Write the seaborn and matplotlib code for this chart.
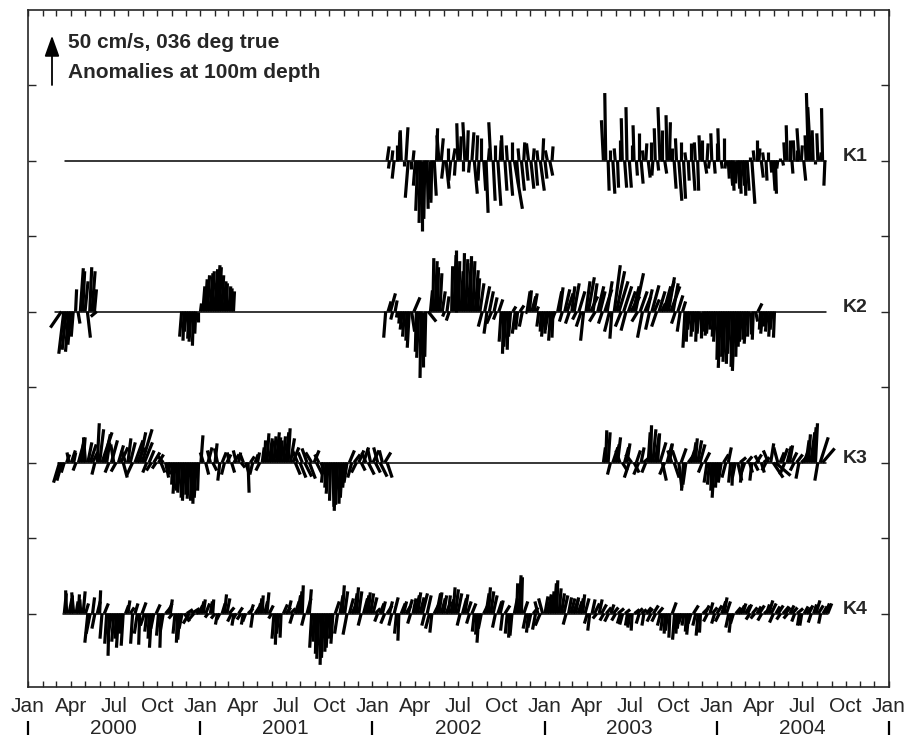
import numpy as np
import pandas as pd
import matplotlib
matplotlib.use("Agg")
import matplotlib.pyplot as plt
import matplotlib.dates as mdates
from matplotlib.collections import LineCollection
from matplotlib.transforms import blended_transform_factory
import seaborn as sns

# ---------------------------------------------------------------------------
# Current anomalies at 100 m (cm/s), 5-day sticks, rotated to 036 deg true.
# v = along-axis component, u = cross-axis component.
# ---------------------------------------------------------------------------
stations = ["K1", "K2", "K3", "K4"]
offsets = [0, -150, -300, -450]
record_start = ["2000-03-20", "2000-02-28", "2000-03-05", "2000-03-15"]
record_end = ["2004-08-20", "2004-08-20", "2004-08-20", "2004-08-24"]
step = "5D"

k1a_start = "2002-02-01"
k1a_v = [14, -8, 10, -18, 15, 28, 30, -5, 33, -37,
         -8, 10, -25, -50, -62, -70, -58, -48, -38, -42,
         -35, 32, 25, 22, -18, -28, 12, -20, 12, -15,
         37, 24, -10, 38, 30, -12, 28, -33, 25, -20,
         22, -30, -52, 12, 38, -40, 15, -45, 20, 25,
         -30, 15, -35, 18, -48, -25, 12, -30, 18, -20,
         17, -28, 12, -25, 10, -30, 22, -18, 10, -15,
         14]
k1a_u = [2, -1, 1, -2, 0, 1, -1, 0, 2, -3,
         0, 1, -2, -2, -1, 0, -1, 1, 0, -1,
         2, 1, -2, 2, -2, 3, 0, -2, 2, -1,
         -1, 1, 0, -2, 1, -1, 2, 3, 1, -1,
         0, 2, 2, 1, -2, 2, 0, 3, 1, -1,
         2, -1, 3, 0, 8, 2, -1, 3, 1, 2,
         -2, 3, 1, 2, -1, 4, 1, 2, -2, 3,
         1]

k1b_start = "2003-05-06"
k1b_v = [40, 67, -30, 10, -33, 12, -27, 20, 42, -27,
         53, -27, 15, 35, -15, 27, -23, 10, 17, -17,
         18, -15, 32, -10, 53, 30, -13, 45, 38, 12,
         -28, 22, -40, 18, -38, 8, -20, 17, -30, 18,
         -30, 25, 20, -13, 17, -8, 27, -13, 17, 32,
         -8, 22, -8, -18, -25, -30, -22, -28, -33, -25,
         -35, -30, 3, -43, 10, 20, 12, -17, 8, -20,
         8, -12, -30, -33, -8, 2, -5, 18, 35, 20,
         -13, 20, 10, 32, 15, -20, 25, 67, 53, 30,
         -3, 27, 8, 52, -25]
k1b_u = [-2, -1, 1, 0, 2, -1, 1, 0, -1, 2,
         -1, 2, 0, -1, 1, 0, 2, -1, 1, 2,
         0, -1, -1, 1, -2, 0, 2, -1, 1, 0,
         2, -1, 3, 0, 2, -1, 1, 0, 2, -1,
         1, -1, 0, 2, 1, -1, -1, 1, 0, -1,
         1, 0, -1, 1, 2, 1, 0, 2, 1, 2,
         1, 2, 0, 3, -1, 0, 1, 2, -1, 1,
         0, 1, 2, 1, -1, 0, 1, -1, -1, 0,
         1, -1, 0, -2, 1, 2, -1, -2, -3, -1,
         0, -1, 1, -1, -1]

k2a_start = "2000-03-12"
k2a_v = [-16, -42, -38, -40, -33, -25, 22, -12, 43, 40, 30, -26, 44, 40, 22, -5]
k2a_u = [-11, -5, -4, -3, -3, -2, 1, 2, 3, 2, 3, 3, 2, 3, 2, -6]

k2b_start = "2000-11-22"
k2b_v = [-25, -29, -20, -27, -30, -34, -22, -10, 8, 25, 32, 36,
         38, 40, 42, 46, 44, 36, 30, 28, 25, 23, 20]
k2b_u = [-2, -1, -2, -1, -2, -1, -1, 0, 1, 2, 2, 2,
         3, 2, 3, 3, 2, 2, 2, 1, 2, 1, 1]

k2c_start = "2002-01-29"
k2c_v = [-26, 10, 18, -8, 11, -6, -12, -18, -25, -29,
         -36, -20, 14, -40, -46, -66, -55, -45, -10, 21,
         53, 50, 44, 38, 20, -5, 15, -9, 45, 56,
         61, 50, 40, 58, 52, 48, 55, 50, 41, 33,
         28, -15, 25, -22, 20, -12, 14, -8, 12, -30,
         -42, -35, -38, -25, 5, -22, -18, 6, -15, 0,
         20, 21, 15, 18, 5, -15, -20, -25, -22, -18,
         -29, -26, -10, 20, 24, -10, 22, 18, -12, 25,
         28, -8, 20, -15, -29, 30, 34, 15, 28, -10,
         25, 20, -12, 22, 30, -20, -27, 46, 40, 30,
         -15, 25, -19, 20, 15, 25, 38, -10, 20, -26,
         15, 22, -18, 26, 12, -15, 20, 8, 25, 30,
         34, 25, 28, -12, 16, -20, 10, -36, -30, -18,
         -25, -20, -30, -22, -26, -20, -24, -22, -18, -25,
         -30, -48, -56, -45, -50, -52, -42, -55, -59, -45,
         -35, -30, -28, -32, -25, -22, -28, -10, 8, -18,
         -22, -15, -20, -25, -18, -26]
k2c_u = [-2, 3, 5, -2, 2, -1, -1, -2, -2, -1,
         -2, 3, 6, -1, -2, -1, 0, -1, 8, 2,
         1, 2, 1, 2, 3, -2, 2, -3, 1, 2,
         0, 1, 2, 1, 2, 3, 1, 2, 3, 2,
         4, -4, 5, -3, 4, -5, 3, -3, 4, -2,
         -1, -2, -1, -2, 3, -3, -2, 4, -3, 2,
         3, 2, 4, 3, 2, -2, -1, -2, -1, -3,
         -2, -1, -4, 4, 3, -3, 5, 6, -4, 3,
         5, -4, 6, -5, -3, 4, 6, 7, 4, -6,
         6, 5, -4, 7, 5, -5, -2, 6, 8, 9,
         -6, 8, -5, 7, 9, 6, 8, -6, 7, -5,
         6, 5, -4, 7, 5, -5, 6, 4, 7, 8,
         6, 9, 5, -4, 5, -3, 3, -2, -1, -2,
         -1, -2, -1, -2, 0, -1, -1, -2, -1, -1,
         -2, -1, -2, -1, -2, -1, -2, -1, -2, -1,
         -1, -2, -1, -2, -1, 0, -1, 2, 4, -1,
         -2, -1, -2, -1, -2, -1]

k3a_start = "2000-03-08"
k3a_v = [-20, -18, -10, 8, 10, 12, 10, -8, 18, 22,
         25, 25, 20, 18, 10, -12, 39, 33, 30, 28,
         20, -10, 22, 18, -9, 17, 15, -15, 12, 24,
         20, -13, 22, 15, 30, 33, 20, -10, 12, -8,
         10, -6, 8, -10, 6, -15, -12, -10, -22, -31,
         -28, -30, -35, -38, -32, -36, -38, -41, -35, -28,
         27, 10, -12, 15, 12, -8, 19, 14, -18, 10,
         -12, 8, 10, -10, 8, 12, 10, -5, 8, -10,
         -30, 6, -12, 8, 10, -8, 15, 22, 29, 24,
         22, 26, 30, 25, 22, 26, 30, 34, 24, 15,
         -12, 12, -15, 10, -14, 14, -16, 10, 12, -12,
         8, -10, -20, -25, -31, -38, -44, -48, -42, -41,
         -35, -25, -20, 12, -15, 8, -10, 12, -8, 15,
         10, -12, 14, 12, -10, 15, -14, 12, 10, -15]
k3a_u = [-6, -5, -3, 3, -2, 4, 2, -3, 5, 3,
         2, -2, 4, 6, 5, -3, 2, 4, 10, 6,
         3, -4, 6, -3, -5, 5, 7, 4, -4, 3,
         5, -6, 8, 7, 6, 10, 8, -4, 5, -5,
         6, -4, 5, 4, -5, 3, 2, -2, -1, -2,
         -1, -2, -1, -2, -1, -2, -1, -1, -2, -1,
         2, -3, 3, 4, -3, 4, 2, -3, -2, 4,
         -3, 4, -2, 3, 5, -3, 2, 4, -3, 3,
         1, 4, -3, 3, 2, -4, 2, 1, 2, 3,
         1, 2, 3, 2, 1, 2, 3, 2, 4, 6,
         5, -5, 6, -4, 7, -5, 6, -6, 5, 6,
         -4, 3, -2, -1, -2, -1, 1, -1, -2, -1,
         -2, -2, -3, 5, -4, 6, -5, 5, 4, 5,
         -4, 6, -3, 6, 5, -4, 7, -3, 6, 5]

k3b_start = "2003-05-06"
k3b_v = [15, 32, 30, -12, 15, 18, 25, 12, -8, 15,
         19, -15, 8, -10, 12, -12, 15, 5, -10, 30,
         37, 33, 28, 29, 20, -18, -12, 18, 19, 12,
         -15, 12, -25, 14, -28, -22, 8, 12, 20, 24,
         22, 18, -10, 10, -20, -22, -28, -35, -25, -18,
         -20, 8, -15, 15, -20, -23, -15, -18, 5, -20,
         -12, 6, -10, -18, -8, 8, 7, -10, 5, -8,
         12, 19, -15, -13, 15, 10, 14, -12, 16, 17,
         10, -8, 8, -16, 5, 10, 22, 28, 30, 35,
         39, -18, 25, 14]
k3b_u = [2, 1, 2, -3, 5, 4, 3, -4, 5, 4,
         3, -5, -6, 5, 4, -5, 3, 6, -4, 2,
         1, 3, 4, 2, 6, 4, -5, 5, 3, -4,
         5, -4, 3, 5, -2, -3, 6, 4, 3, 2,
         4, 5, -4, 5, -3, -2, -1, -2, -1, -2,
         -3, 5, -4, 3, -2, -1, -3, 4, 6, -2,
         -4, 5, 3, -2, 4, 5, -4, 3, 6, -4,
         -5, 3, 10, 15, -4, 4, 5, -5, 4, 3,
         5, -4, 6, -3, 5, 4, 3, 2, 4, 3,
         2, -3, 8, 12]

k4_start = "2000-03-18"
k4_v = [20, 23, 15, 18, 21, 12, 19, 14, 22, 10,
        -29, -20, 16, -15, 12, 23, -25, 10, -30, -42,
        -20, -28, -25, -34, -20, -32, 8, 13, 6, -30,
        10, -20, -31, 11, -12, -18, -25, -34, -15, 9,
        -22, -34, -18, 6, 10, 14, -5, -20, -29, -26,
        -15, -8, 4, -10, 5, -6, 4, 8, 12, 14,
        10, -4, 12, 14, -5, -11, -6, 10, 19, 15,
        6, -8, -12, -5, 6, -6, -11, -8, 5, 9,
        -14, 6, 10, 15, 18, 12, 21, 8, -5, -25,
        -31, -20, -24, 9, 6, 13, 5, -10, 12, 18,
        22, 28, -12, 15, 24, -34, -28, -40, -45, -51,
        -44, -38, -34, -25, -30, 12, -20, 18, 28, 22,
        -21, 15, 10, 20, 26, 22, -12, 15, 18, 21,
        20, 16, 5, -8, 10, 12, -10, 8, 12, -12,
        16, -20, -27, 10, 12, 8, 14, -10, 15, 18,
        21, 16, 20, -12, 18, -15, -19, 10, 20, 21,
        15, 18, 12, 18, 14, 26, 24, 20, -12, 15,
        19, 12, -10, 10, -18, -21, -29, -15, 8, 20,
        26, 22, 18, -14, 12, 13, -17, 8, -20, -24,
        -22, 15, 30, 38, 36, 12, -15, -19, -14, 6,
        -16, 12, -12, 15, 17, 19, 14, 22, 30, 33,
        25, 20, 18, -11, 16, 15, 14, 16, 12, 15,
        19, 15, -10, -17, 14, 10, -5, 14, 9, -7,
        6, -8, 9, 6, -7, 5, -10, -11, 4, -12,
        -14, -17, 4, 5, -10, 4, -12, 6, 5, -8,
        8, -8, 6, -12, -17, -20, -17, -24, 11, -26,
        -20, -15, -10, -12, -18, -21, -10, 8, -12, -22,
        -19, 5, 8, -8, 11, 6, -10, 8, -8, 12,
        16, 12, -14, -19, -10, 6, 6, 8, 10, 8,
        9, -6, 6, -5, 7, 8, -7, 5, 9, 13,
        10, -9, 7, 8, -6, 7, 6, -5, 8, 6,
        -8, 5, -12, -12, 7, 6, 8, -9, 9, 13,
        8, -10, 7, 10, 10]
k4_u = [2, -1, 3, 1, -2, 2, 1, -1, 2, 3,
        -3, -4, 2, -3, 3, 1, -2, 4, -2, -1,
        -3, -2, -1, -2, -1, -2, 3, 2, 4, -2,
        3, -3, -1, 4, -4, -2, -1, -2, -3, 4,
        -2, -1, -3, 5, 4, 2, -4, -2, -1, -2,
        -3, 5, 6, -6, 8, -5, 6, 4, 3, 2,
        4, -3, 2, 1, -4, -2, -3, 3, 2, 3,
        5, -4, -2, -3, 4, -4, -2, -3, 5, 3,
        -2, 4, 3, 2, 1, 3, 2, 4, -3, -2,
        -1, -2, -1, 4, 5, 3, 5, -3, 4, 3,
        2, 1, -3, 4, 2, -2, -1, -1, -2, -1,
        -2, -1, -2, -1, -2, 4, -3, 3, 2, 3,
        -4, 4, 5, 3, 2, 3, -3, 4, 3, 2,
        3, 4, 5, -3, 4, 3, -4, 5, 3, -3,
        4, -2, -1, 4, 3, 5, 4, -3, 3, 4,
        3, 4, 5, -3, 4, -4, -2, 5, 4, 3,
        4, 3, 5, 2, 3, 2, 3, 4, -3, 4,
        3, 4, -3, 4, -2, -1, -2, -3, 4, 3,
        2, 3, 4, -3, 4, 3, -2, 5, -2, -1,
        -2, 3, 1, 2, 1, 4, -3, -2, -3, 5,
        -3, -3, -5, -4, 3, 4, 3, 2, 2, 1,
        2, 3, 4, -3, 3, 4, 5, 3, 4, 3,
        2, 4, -3, -2, 3, 5, -4, 3, 5, -4,
        5, -4, 3, 5, -4, 6, -3, -3, 5, -2,
        -2, -1, 5, 6, -3, 5, -2, 5, 4, -4,
        5, -4, 5, -3, -2, -1, -2, -1, 4, -2,
        -1, -2, -3, -2, -1, -2, -3, 5, -3, -2,
        -1, 5, 4, -4, 3, 5, -3, 5, -4, 4,
        3, 4, -3, -2, -3, 5, 6, 4, 3, 5,
        4, -4, 5, -4, 4, 5, -4, 6, 3, 4,
        5, -4, 4, 5, -4, 6, 5, -4, 4, 5,
        -3, 6, -2, -2, 4, 5, 4, -3, 3, 4,
        5, -2, 4, 4, 4]

segments = [
    ("K1", k1a_start, k1a_u, k1a_v),
    ("K1", k1b_start, k1b_u, k1b_v),
    ("K2", k2a_start, k2a_u, k2a_v),
    ("K2", k2b_start, k2b_u, k2b_v),
    ("K2", k2c_start, k2c_u, k2c_v),
    ("K3", k3a_start, k3a_u, k3a_v),
    ("K3", k3b_start, k3b_u, k3b_v),
    ("K4", k4_start, k4_u, k4_v),
]

year_labels = ["2000", "2001", "2002", "2003", "2004"]

# ---------------------------------------------------------------------------
sns.set_style("ticks")
plt.rcParams["font.family"] = ["Liberation Sans", "DejaVu Sans"]
plt.rcParams["axes.linewidth"] = 1.2

W, H = 912, 740
fig = plt.figure(figsize=(W / 100, H / 100), dpi=100)
ax_l, ax_r, ax_t, ax_b = 28, 889, 10, 687
ax = fig.add_axes([ax_l / W, (H - ax_b) / H, (ax_r - ax_l) / W, (ax_b - ax_t) / H])

xmin, xmax = pd.Timestamp("2000-01-01"), pd.Timestamp("2005-01-01")
ymin, ymax = -523.0, 149.5

# zero lines for every mooring record
base = pd.DataFrame({
    "station": np.repeat(stations, 2),
    "date": pd.to_datetime([d for pair in zip(record_start, record_end) for d in pair]),
    "y": np.repeat(offsets, 2).astype(float),
})
sns.lineplot(data=base, x="date", y="y", units="station", estimator=None,
             color="black", linewidth=1.1, ax=ax, legend=False)

ax.set_xlim(xmin, xmax)
ax.set_ylim(ymin, ymax)
ax.set_xlabel("")
ax.set_ylabel("")

# sticks keep their true direction on screen: one cm/s is the same length in x and y
px_per_day = (ax_r - ax_l) / (xmax - xmin).days
px_per_unit = (ax_b - ax_t) / (ymax - ymin)
days_per_unit = px_per_unit / px_per_day

offset_of = dict(zip(stations, offsets))
lines = []
for name, start, u, v in segments:
    t = mdates.date2num(pd.date_range(start, periods=len(v), freq=step))
    y0 = offset_of[name]
    for ti, ui, vi in zip(t, u, v, strict=True):
        lines.append([(ti, y0), (ti + ui * days_per_unit, y0 + vi)])
ax.add_collection(LineCollection(lines, colors="black", linewidths=2.3,
                                 capstyle="butt", zorder=3))

# axis ticks
ax.xaxis.set_major_locator(mdates.MonthLocator(bymonth=[1, 4, 7, 10]))
ax.xaxis.set_major_formatter(mdates.DateFormatter("%b"))
ax.xaxis.set_minor_locator(mdates.MonthLocator())
ax.tick_params(axis="x", which="both", direction="in", top=True, bottom=True,
               length=4.5, width=1.0)
ax.tick_params(axis="x", which="major", pad=7)
for lab in ax.get_xticklabels():
    lab.set_fontsize(15)
ax.set_yticks(np.arange(-450, 76, 75))
ax.set_yticklabels([])
ax.tick_params(axis="y", direction="in", left=True, right=True, length=6, width=1.0)

# year row under the month labels, with separators at each new year
bt = blended_transform_factory(ax.transData, ax.transAxes)
yr_y = (ax_b - 729) / (ax_b - ax_t)
bar_lo = (ax_b - 735) / (ax_b - ax_t)
bar_hi = (ax_b - 721) / (ax_b - ax_t)
for yr in year_labels:
    ax.text(pd.Timestamp(f"{yr}-07-01"), yr_y, yr, transform=bt, ha="center",
            va="center", fontsize=15)
for yr in range(2000, 2006):
    d = pd.Timestamp(f"{yr}-01-01")
    ax.plot([d, d], [bar_lo, bar_hi], transform=bt, color="black", lw=1.6,
            clip_on=False, solid_capstyle="butt")

# station labels
st = blended_transform_factory(ax.transAxes, ax.transData)
for name, y0 in zip(stations, offsets):
    ax.text((843 - ax_l) / (ax_r - ax_l), y0, name, transform=st, ha="left",
            va="baseline", fontsize=14, fontweight="bold")

# scale arrow and header
ax_x = (52 - ax_l) / (ax_r - ax_l)
ax.annotate("", xy=(ax_x, 124), xytext=(ax_x, 75), xycoords=st, textcoords=st,
            arrowprops=dict(arrowstyle="-|>,head_length=0.7,head_width=0.25",
                            color="black", lw=1.3, mutation_scale=18,
                            shrinkA=0, shrinkB=0))
ax.text((68 - ax_l) / (ax_r - ax_l), (ax_b - 42) / (ax_b - ax_t),
        "50 cm/s, 036 deg true", transform=ax.transAxes, ha="left", va="center",
        fontsize=15, fontweight="bold")
ax.text((68 - ax_l) / (ax_r - ax_l), (ax_b - 72) / (ax_b - ax_t),
        "Anomalies at 100m depth", transform=ax.transAxes, ha="left", va="center",
        fontsize=15, fontweight="bold")

fig.savefig("out.png", dpi=100)
